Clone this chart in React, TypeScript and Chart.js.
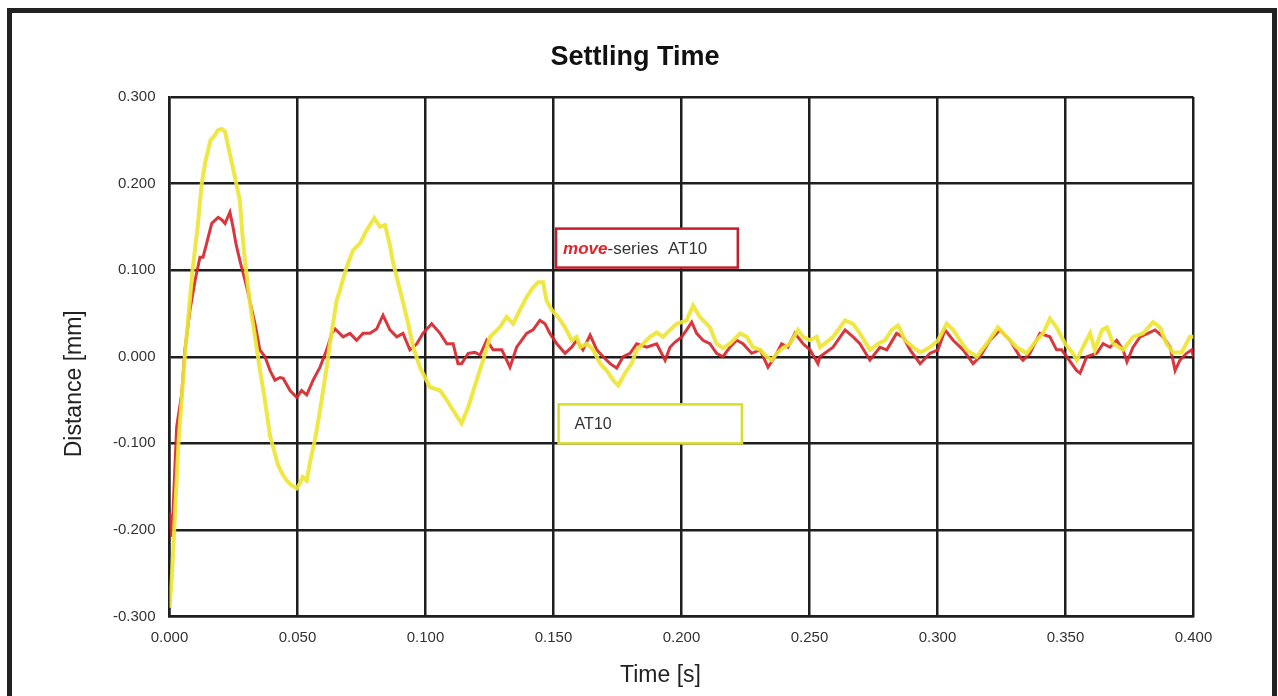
import React, { useEffect, useRef } from "react";
import { Chart, registerables } from "chart.js";

Chart.register(...registerables);

const TITLE = "Settling Time";
const X_TITLE = "Time [s]";
const Y_TITLE = "Distance [mm]";

const X_MIN = 0;
const X_MAX = 0.4;
const X_STEP = 0.05;
const Y_MIN = -0.3;
const Y_MAX = 0.3;
const Y_STEP = 0.1;

// AT10 (yellow)
const AT10_T = [
  0.0, 0.001, 0.002, 0.0035, 0.0045, 0.006, 0.0075, 0.009, 0.011, 0.0126, 0.014, 0.016, 0.0175, 0.019, 0.0205,
  0.0217, 0.023, 0.0245, 0.0256, 0.0275, 0.0285, 0.0295, 0.0307, 0.032, 0.0334, 0.0353, 0.037, 0.0393, 0.041,
  0.0424, 0.044, 0.0458, 0.0475, 0.0497, 0.051, 0.052, 0.0536, 0.055, 0.0568, 0.0588, 0.0614, 0.0627, 0.0653,
  0.0666, 0.0686, 0.07, 0.0717, 0.0744, 0.077, 0.08, 0.0822, 0.0842, 0.086, 0.0874, 0.0907, 0.0932, 0.0952,
  0.0978, 0.1, 0.1017, 0.1057, 0.1083, 0.1108, 0.1141, 0.1167, 0.12, 0.1225, 0.1252, 0.129, 0.1317, 0.1342,
  0.1369, 0.1395, 0.142, 0.144, 0.1459, 0.1473, 0.1493, 0.1518, 0.1545, 0.1571, 0.159, 0.1604, 0.163, 0.1655,
  0.1682, 0.1708, 0.1733, 0.1753, 0.1779, 0.1805, 0.1825, 0.185, 0.1877, 0.1903, 0.1928, 0.1955, 0.1981, 0.202,
  0.2045, 0.2072, 0.2111, 0.2137, 0.2162, 0.2189, 0.2229, 0.2255, 0.2279, 0.2307, 0.2333, 0.2352, 0.2372, 0.2396,
  0.2424, 0.2455, 0.2475, 0.2502, 0.2528, 0.2541, 0.2592, 0.2639, 0.267, 0.2697, 0.2736, 0.2768, 0.2795, 0.2821,
  0.2846, 0.2873, 0.2905, 0.2932, 0.2971, 0.3002, 0.3036, 0.3061, 0.3088, 0.3114, 0.3153, 0.3192, 0.3236, 0.327,
  0.3309, 0.3348, 0.3387, 0.3412, 0.3439, 0.3465, 0.3498, 0.3529, 0.3544, 0.3568, 0.3596, 0.3615, 0.3643, 0.3662,
  0.3686, 0.3725, 0.3764, 0.3803, 0.3842, 0.3869, 0.3895, 0.392, 0.3954, 0.3986, 0.4,
];
const AT10_V = [
  -0.29, -0.25, -0.19, -0.1, -0.06, 0.0, 0.05, 0.1, 0.15, 0.2, 0.225, 0.25, 0.255, 0.262, 0.263,
  0.26, 0.242, 0.222, 0.207, 0.18, 0.14, 0.111, 0.08, 0.05, 0.023, -0.015, -0.045, -0.092, -0.11,
  -0.125, -0.135, -0.143, -0.148, -0.152, -0.146, -0.139, -0.143, -0.12, -0.096, -0.062, -0.012, 0.016, 0.065,
  0.077, 0.098, 0.11, 0.123, 0.131, 0.146, 0.16, 0.15, 0.152, 0.13, 0.108, 0.069, 0.039, 0.011,
  -0.012, -0.025, -0.035, -0.039, -0.05, -0.062, -0.077, -0.058, -0.027, -0.004, 0.023, 0.034, 0.046, 0.038,
  0.054, 0.069, 0.08, 0.086, 0.086, 0.065, 0.054, 0.046, 0.034, 0.019, 0.023, 0.011, 0.015, 0.008,
  -0.008, -0.016, -0.027, -0.033, -0.019, -0.008, 0.008, 0.015, 0.023, 0.028, 0.023, 0.031, 0.038, 0.042,
  0.059, 0.046, 0.034, 0.015, 0.01, 0.015, 0.027, 0.023, 0.011, 0.008, 0.0, -0.004, 0.004, 0.01,
  0.015, 0.031, 0.023, 0.019, 0.023, 0.011, 0.023, 0.042, 0.038, 0.027, 0.008, 0.015, 0.019, 0.031,
  0.036, 0.019, 0.011, 0.005, 0.011, 0.019, 0.038, 0.031, 0.019, 0.008, 0.0, 0.015, 0.034, 0.023,
  0.011, 0.004, 0.019, 0.027, 0.044, 0.034, 0.015, 0.004, -0.004, 0.011, 0.027, 0.008, 0.031, 0.034,
  0.015, 0.008, 0.023, 0.027, 0.04, 0.034, 0.015, 0.005, 0.005, 0.023, 0.023,
];

// move-series AT10 (red)
const MOVE_T = [
  0.0, 0.0009, 0.0014, 0.0028, 0.0048, 0.006, 0.008, 0.01, 0.0119, 0.0131, 0.0145, 0.0165, 0.019, 0.0205,
  0.0217, 0.0236, 0.0248, 0.026, 0.0275, 0.0302, 0.0334, 0.0353, 0.0373, 0.0393, 0.0412, 0.0432, 0.0444,
  0.0471, 0.0497, 0.0516, 0.0536, 0.0561, 0.0588, 0.0614, 0.0634, 0.0647, 0.0678, 0.0705, 0.0731, 0.0756,
  0.0783, 0.0809, 0.0834, 0.0861, 0.0888, 0.0912, 0.0939, 0.0966, 0.099, 0.1024, 0.1057, 0.1083, 0.1108,
  0.1127, 0.1141, 0.1167, 0.1193, 0.1213, 0.1239, 0.1264, 0.1298, 0.133, 0.1356, 0.1395, 0.142, 0.1447,
  0.1467, 0.1486, 0.1513, 0.1545, 0.1571, 0.159, 0.1615, 0.1643, 0.1669, 0.1694, 0.1721, 0.1747, 0.1772,
  0.1799, 0.1825, 0.1864, 0.1903, 0.1936, 0.1955, 0.1975, 0.2001, 0.202, 0.204, 0.2059, 0.2084, 0.2111,
  0.2137, 0.2162, 0.2189, 0.2216, 0.224, 0.2274, 0.2307, 0.2338, 0.2365, 0.2391, 0.2416, 0.2443, 0.2475,
  0.2502, 0.2533, 0.2541, 0.2592, 0.2639, 0.267, 0.2697, 0.2736, 0.2775, 0.2802, 0.284, 0.2865, 0.2893,
  0.2932, 0.2971, 0.3002, 0.3029, 0.3061, 0.31, 0.3139, 0.3166, 0.3205, 0.3244, 0.3283, 0.3322, 0.3334,
  0.3361, 0.34, 0.3439, 0.3465, 0.3485, 0.3544, 0.3557, 0.3583, 0.3622, 0.3647, 0.3674, 0.37, 0.3725,
  0.374, 0.3764, 0.3791, 0.3822, 0.385, 0.3881, 0.3909, 0.3928, 0.3947, 0.3973, 0.3993, 0.4,
];
const MOVE_V = [
  -0.18, -0.208, -0.177, -0.081, -0.042, 0.008, 0.054, 0.088, 0.115, 0.115, 0.131, 0.154, 0.161, 0.158,
  0.154, 0.167, 0.15, 0.13, 0.111, 0.08, 0.038, 0.008, 0.0, -0.016, -0.027, -0.024, -0.025,
  -0.039, -0.047, -0.039, -0.044, -0.027, -0.012, 0.008, 0.027, 0.032, 0.023, 0.027, 0.019, 0.027,
  0.027, 0.032, 0.048, 0.031, 0.023, 0.027, 0.008, 0.015, 0.027, 0.038, 0.027, 0.015, 0.015,
  -0.008, -0.008, 0.004, 0.005, 0.002, 0.019, 0.008, 0.008, -0.012, 0.011, 0.027, 0.031, 0.042,
  0.038, 0.027, 0.015, 0.004, 0.011, 0.019, 0.008, 0.025, 0.008, 0.0, -0.008, -0.013, 0.0,
  0.004, 0.015, 0.011, 0.015, -0.004, 0.011, 0.017, 0.023, 0.031, 0.04, 0.027, 0.019, 0.015,
  0.004, 0.0, 0.011, 0.019, 0.015, 0.004, 0.008, -0.012, 0.0, 0.015, 0.011, 0.027, 0.015,
  0.008, -0.008, 0.0, 0.011, 0.031, 0.023, 0.015, -0.004, 0.011, 0.008, 0.027, 0.023, 0.008,
  -0.008, 0.004, 0.008, 0.031, 0.019, 0.008, -0.008, 0.0, 0.019, 0.031, 0.019, 0.0, -0.004,
  0.004, 0.027, 0.023, 0.008, 0.008, -0.016, -0.019, 0.0, 0.004, 0.015, 0.011, 0.019, 0.008,
  -0.006, 0.011, 0.023, 0.027, 0.031, 0.023, 0.011, -0.016, -0.004, 0.004, 0.008, 0.0,
];

// Legend boxes (data coordinates: [t0, t1], [vTop, vBottom])
const MOVE_BOX_T = [0.151, 0.222];
const MOVE_BOX_V = [0.148, 0.103];
const AT10_BOX_T = [0.152, 0.2236];
const AT10_BOX_V = [-0.055, -0.1];

const YELLOW = "rgba(237,229,52,0.92)";
const RED = "rgba(212,38,44,0.92)";
const FONT = '"Liberation Sans", Arial, Helvetica, sans-serif';

const fmt = (v: number) => (Math.abs(v) < 1e-9 ? "0.000" : v.toFixed(3));

const decorPlugin = {
  id: "decor",
  afterDatasetsDraw(chart: any) {
    const { ctx, scales } = chart;
    const xs = scales.x;
    const ys = scales.y;
    ctx.save();
    const drawBox = (tr: number[], vr: number[], color: string) => {
      const x0 = xs.getPixelForValue(tr[0]);
      const x1 = xs.getPixelForValue(tr[1]);
      const y0 = ys.getPixelForValue(vr[0]);
      const y1 = ys.getPixelForValue(vr[1]);
      ctx.fillStyle = "#ffffff";
      ctx.fillRect(x0, y0, x1 - x0, y1 - y0);
      ctx.strokeStyle = color;
      ctx.lineWidth = 2.5;
      ctx.strokeRect(x0, y0, x1 - x0, y1 - y0);
      return { x0, y0, x1, y1 };
    };
    const b1 = drawBox(MOVE_BOX_T, MOVE_BOX_V, "#c3202c");
    ctx.textBaseline = "middle";
    ctx.textAlign = "left";
    const cy1 = (b1.y0 + b1.y1) / 2 + 1;
    ctx.font = `italic bold 17px ${FONT}`;
    ctx.fillStyle = "#e3232a";
    ctx.fillText("move", b1.x0 + 7, cy1);
    const w = ctx.measureText("move").width;
    ctx.font = `17px ${FONT}`;
    ctx.fillStyle = "#333333";
    ctx.fillText("-series  AT10", b1.x0 + 7 + w, cy1);

    const b2 = drawBox(AT10_BOX_T, AT10_BOX_V, "#d9dd2e");
    ctx.font = `16px ${FONT}`;
    ctx.fillStyle = "#333333";
    ctx.fillText("AT10", b2.x0 + 16, (b2.y0 + b2.y1) / 2 + 1);
    ctx.restore();
  },
  afterDraw(chart: any) {
    const { ctx, chartArea } = chart;
    ctx.save();
    ctx.textAlign = "center";
    ctx.textBaseline = "middle";
    ctx.fillStyle = "#111111";
    ctx.font = `bold 27px ${FONT}`;
    ctx.fillText(TITLE, 623, 45);

    ctx.fillStyle = "#222222";
    ctx.font = `23px ${FONT}`;
    const cxMid = (chartArea.left + chartArea.right) / 2;
    ctx.fillText(X_TITLE, cxMid - 21, chartArea.bottom + 59);

    ctx.translate(63, (chartArea.top + chartArea.bottom) / 2 + 27);
    ctx.rotate(-Math.PI / 2);
    ctx.fillText(Y_TITLE, 0, 0);
    ctx.restore();
  },
};

export default function App() {
  const ref = useRef<HTMLCanvasElement | null>(null);

  useEffect(() => {
    if (!ref.current) return;
    const chart = new Chart(ref.current, {
      type: "line",
      data: {
        datasets: [
          {
            label: "AT10",
            data: AT10_T.map((t, i) => ({ x: t, y: AT10_V[i] })),
            borderColor: YELLOW,
            borderWidth: 4,
            pointRadius: 0,
            tension: 0,
            fill: false,
            order: 1,
          },
          {
            label: "move-series AT10",
            data: MOVE_T.map((t, i) => ({ x: t, y: MOVE_V[i] })),
            borderColor: RED,
            borderWidth: 3,
            pointRadius: 0,
            tension: 0,
            fill: false,
            order: 2,
          },
        ],
      },
      options: {
        animation: false,
        responsive: false,
        devicePixelRatio: 1,
        layout: { padding: { left: 0, top: 84, right: 78.5, bottom: 0 } },
        plugins: {
          legend: { display: false },
          title: { display: false },
          tooltip: { enabled: false },
        },
        scales: {
          x: {
            type: "linear",
            min: X_MIN,
            max: X_MAX,
            afterFit: (s: any) => {
              s.height = 79.5;
            },
            ticks: {
              stepSize: X_STEP,
              autoSkip: false,
              maxRotation: 0,
              padding: 12,
              color: "#333333",
              font: { size: 15, family: FONT },
              callback: (v: any) => fmt(Number(v)),
            },
            grid: { color: "#1e1e1e", lineWidth: 2.5, drawTicks: false },
            border: { color: "#1e1e1e", width: 2.5 },
          },
          y: {
            type: "linear",
            min: Y_MIN,
            max: Y_MAX,
            afterFit: (s: any) => {
              s.width = 157.5;
            },
            ticks: {
              stepSize: Y_STEP,
              padding: 14,
              color: "#333333",
              font: { size: 15, family: FONT },
              callback: (v: any) => fmt(Number(v)),
            },
            grid: { color: "#1e1e1e", lineWidth: 2.5, drawTicks: false },
            border: { color: "#1e1e1e", width: 2.5 },
          },
        },
      },
      plugins: [decorPlugin],
    } as any);
    return () => chart.destroy();
  }, []);

  return (
    <div
      style={{
        position: "fixed",
        left: 7,
        top: 8,
        width: 1270,
        height: 720,
        boxSizing: "border-box",
        borderTop: "5px solid #222",
        borderLeft: "5px solid #222",
        borderRight: "5px solid #222",
        background: "#fff",
      }}
    >
      <canvas ref={ref} width={1260} height={683} style={{ display: "block", width: 1260, height: 683 }} />
    </div>
  );
}
